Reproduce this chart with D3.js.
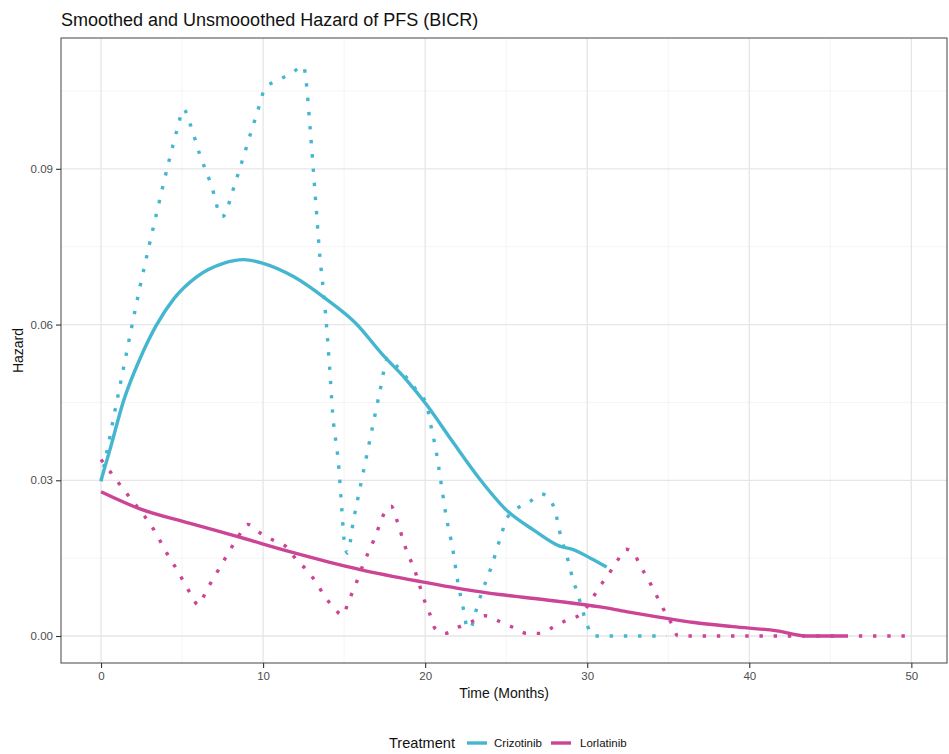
<!DOCTYPE html>
<html><head><meta charset="utf-8">
<script src="https://cdn.jsdelivr.net/npm/d3@7"></script>
<style>body{margin:0;background:#fff;} svg{display:block;}</style>
</head><body>
<svg id="chart" width="949" height="754"></svg>
<script>
const title = "Smoothed and Unsmooothed Hazard of PFS (BICR)";
const xTicks = [0, 10, 20, 30, 40, 50];
const yTicks = [0.00, 0.03, 0.06, 0.09];
const xMinor = [5, 15, 25, 35, 45];
const yMinor = [0.015, 0.045, 0.075, 0.105];
const treatments = ["Crizotinib", "Lorlatinib"];
const colors = ["#45B6CF", "#CC4495"];

// Smoothed hazard [time, hazard]
const crizSmooth = [[0,0.0300],[0.56,0.0360],[1.38,0.0452],[2.4,0.0534],[3.4,0.0598],[4.5,0.0650],[5.9,0.0692],[7.55,0.0718],[8.8,0.0725],[10.0,0.0718],[11.9,0.0692],[13.9,0.0649],[15.7,0.0603],[17.4,0.0541],[18.8,0.0495],[20.1,0.0445],[21.7,0.0374],[23.4,0.0301],[25.0,0.0243],[26.7,0.0204],[28.3,0.0173],[29.1,0.0167],[30.2,0.0150],[31.2,0.0133]];
const lorlSmooth = [[0,0.0278],[2.4,0.0245],[5.5,0.0217],[8.6,0.0190],[11.7,0.0162],[14.0,0.0143],[16.0,0.0128],[19.7,0.0105],[23.0,0.0087],[24.6,0.0080],[27.9,0.0068],[30.8,0.0056],[32.4,0.0047],[34.5,0.0036],[36.6,0.0026],[39.0,0.0018],[41.7,0.0010],[43.55,0.0000],[45.9,0.0000]];

// Unsmoothed hazard [time, hazard]
const crizRaw = [[0,0.0298],[1.2,0.0487],[2.4,0.0672],[3.5,0.0824],[4.2,0.0916],[4.7,0.0976],[5.1,0.1015],[5.5,0.0986],[6.1,0.0927],[6.8,0.0869],[7.45,0.0808],[7.7,0.0814],[8.0,0.0845],[8.6,0.0904],[9.2,0.0965],[9.8,0.1025],[10.1,0.1055],[10.8,0.1069],[11.7,0.1083],[12.5,0.1098],[12.65,0.1070],[12.9,0.0979],[13.2,0.0856],[13.5,0.0733],[13.8,0.0640],[14.1,0.0519],[14.3,0.0426],[14.65,0.0333],[14.86,0.0243],[15.0,0.0185],[15.2,0.0160],[15.6,0.0227],[16.0,0.0288],[16.4,0.0349],[16.8,0.0410],[17.2,0.0470],[17.7,0.0535],[18.3,0.0518],[19.0,0.0492],[19.6,0.0468],[20.1,0.0445],[20.3,0.0414],[20.7,0.0352],[21.0,0.0291],[21.3,0.0230],[21.7,0.0168],[22.0,0.0107],[22.4,0.0046],[22.6,0.0015],[22.8,0.0015],[23.1,0.0045],[23.4,0.0075],[24.1,0.0135],[24.7,0.0195],[25.0,0.0224],[25.6,0.0244],[26.4,0.0258],[27.25,0.0273],[27.75,0.0261],[28.1,0.0231],[28.3,0.0201],[28.85,0.0142],[29.1,0.0111],[29.4,0.0082],[29.7,0.0051],[30.0,0.0021],[30.35,0.0000],[34.9,0.0000]];
const lorlRaw = [[0,0.0340],[0.72,0.0310],[1.3,0.0286],[1.9,0.0262],[2.5,0.0238],[3.08,0.0214],[3.58,0.0187],[4.05,0.0160],[4.56,0.0134],[5.04,0.0108],[5.53,0.0081],[6.0,0.0060],[6.52,0.0089],[6.99,0.0114],[7.5,0.0141],[8.0,0.0168],[8.5,0.0193],[9.05,0.0215],[9.8,0.0199],[10.6,0.0185],[11.46,0.0171],[12.1,0.0145],[12.7,0.0127],[13.27,0.0103],[13.8,0.0077],[14.4,0.0053],[14.9,0.0040],[15.3,0.0069],[15.7,0.0098],[16.05,0.0128],[16.45,0.0158],[16.85,0.0186],[17.2,0.0215],[17.6,0.0244],[17.9,0.0250],[18.3,0.0219],[18.6,0.0189],[18.9,0.0160],[19.3,0.0132],[19.6,0.0103],[19.9,0.0073],[20.27,0.0044],[20.6,0.0015],[21.2,0.0005],[22.05,0.0017],[22.9,0.0028],[23.7,0.0039],[24.6,0.0028],[25.4,0.0017],[26.3,0.0005],[27.1,0.0005],[27.9,0.0017],[28.7,0.0030],[29.6,0.0042],[30.2,0.0066],[30.7,0.0092],[31.3,0.0118],[31.8,0.0142],[32.4,0.0167],[32.85,0.0160],[33.3,0.0134],[33.8,0.0107],[34.26,0.0079],[34.7,0.0052],[35.2,0.0024],[35.6,0.0000],[49.8,0.0000]];

const svg = d3.select("#chart");
const P = {left: 61, top: 38, right: 947, bottom: 663};
const x = d3.scaleLinear().domain([-2.47, 52.2]).range([P.left, P.right]);
const y = d3.scaleLinear().domain([-0.0052, 0.1152]).range([P.bottom, P.top]);

const font = "'Liberation Sans', Arial, sans-serif";
svg.append("rect").attr("x",0).attr("y",0).attr("width",949).attr("height",754).attr("fill","#fff");

const grid = svg.append("g");
xMinor.forEach(v => grid.append("line").attr("x1",x(v)).attr("x2",x(v)).attr("y1",P.top).attr("y2",P.bottom).attr("stroke","#f0f0f0").attr("stroke-width",0.7));
yMinor.forEach(v => grid.append("line").attr("y1",y(v)).attr("y2",y(v)).attr("x1",P.left).attr("x2",P.right).attr("stroke","#f0f0f0").attr("stroke-width",0.7));
xTicks.forEach(v => grid.append("line").attr("x1",x(v)).attr("x2",x(v)).attr("y1",P.top).attr("y2",P.bottom).attr("stroke","#e6e6e6").attr("stroke-width",1.3));
yTicks.forEach(v => grid.append("line").attr("y1",y(v)).attr("y2",y(v)).attr("x1",P.left).attr("x2",P.right).attr("stroke","#e6e6e6").attr("stroke-width",1.3));

svg.append("clipPath").attr("id","clip").append("rect")
  .attr("x",P.left).attr("y",P.top).attr("width",P.right-P.left).attr("height",P.bottom-P.top);

const rawLine = d3.line().x(d => x(d[0])).y(d => y(d[1])).curve(d3.curveMonotoneX);
const smoothLine = d3.line().x(d => x(d[0])).y(d => y(d[1])).curve(d3.curveMonotoneX);
const lines = svg.append("g").attr("clip-path","url(#clip)");
[crizRaw, lorlRaw].forEach((data,i) => {
  lines.append("path").attr("d", rawLine(data)).attr("fill","none").attr("stroke",colors[i])
    .attr("stroke-width",3.4).attr("stroke-dasharray","3.4,10.8").attr("stroke-linecap","butt");
});
[crizSmooth, lorlSmooth].forEach((data,i) => {
  lines.append("path").attr("d", smoothLine(data)).attr("fill","none").attr("stroke",colors[i])
    .attr("stroke-width",3.4).attr("stroke-linejoin","round");
});

// border
svg.append("rect").attr("x",P.left).attr("y",P.top).attr("width",P.right-P.left).attr("height",P.bottom-P.top)
  .attr("fill","none").attr("stroke","#555").attr("stroke-width",1.1);

// axes
const xAxis = d3.axisBottom(x).tickValues(xTicks).tickSize(5).tickPadding(4).tickFormat(d3.format("d"));
const gx = svg.append("g").attr("transform",`translate(0,${P.bottom})`).call(xAxis);
const yAxis = d3.axisLeft(y).tickValues(yTicks).tickSize(5).tickPadding(3).tickFormat(d3.format(".2f"));
const gy = svg.append("g").attr("transform",`translate(${P.left},0)`).call(yAxis);
[gx, gy].forEach(g => {
  g.select(".domain").remove();
  g.selectAll(".tick line").attr("stroke","#333").attr("stroke-width",1.1);
  g.selectAll(".tick text").attr("fill","#4d4d4d").style("font-family",font).style("font-size","11.5px");
});

svg.append("text").attr("x",P.left).attr("y",26).text(title)
  .style("font-family",font).style("font-size","18px").attr("fill","#111");
svg.append("text").attr("x",(P.left+P.right)/2).attr("y",698).attr("text-anchor","middle").text("Time (Months)")
  .style("font-family",font).style("font-size","14px").attr("fill","#111");
svg.append("text").attr("transform",`translate(23,${(P.top+P.bottom)/2}) rotate(-90)`).attr("text-anchor","middle").text("Hazard")
  .style("font-family",font).style("font-size","14px").attr("fill","#111");

// legend
const lg = svg.append("g");
lg.append("text").attr("x",389).attr("y",748).text("Treatment").style("font-family",font).style("font-size","14.6px").attr("fill","#111");
const keyX = [467, 551], labX = [494, 580];
treatments.forEach((t,i) => {
  lg.append("line").attr("x1",keyX[i]).attr("x2",keyX[i]+20).attr("y1",743).attr("y2",743).attr("stroke",colors[i]).attr("stroke-width",3.4);
  lg.append("text").attr("x",labX[i]).attr("y",747).text(t).style("font-family",font).style("font-size","11.5px").attr("fill","#111");
});
</script>
</body></html>
